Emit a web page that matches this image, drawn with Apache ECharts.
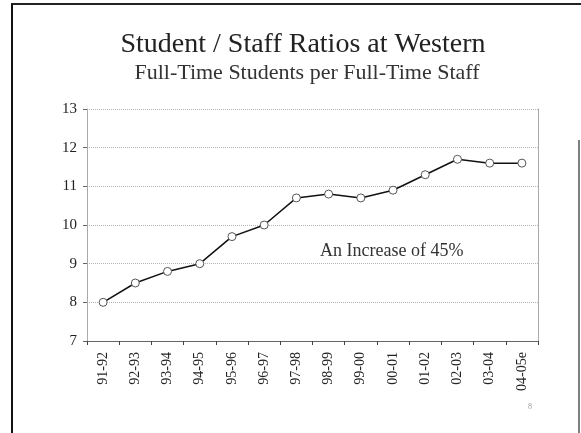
<!DOCTYPE html>
<html>
<head>
<meta charset="utf-8">
<script src="https://cdn.jsdelivr.net/npm/echarts@6/dist/echarts.min.js"></script>
<style>
  html, body { margin: 0; padding: 0; background: #fff; }
  #chart { width: 581px; height: 433px; }
</style>
</head>
<body>
<div id="chart"></div>
<script>
const years = ['91-92', '92-93', '93-94', '94-95', '95-96', '96-97', '97-98',
  '98-99', '99-00', '00-01', '01-02', '02-03', '03-04', '04-05e']
const ratios = [8.0, 8.5, 8.8, 9.0, 9.7, 10.0, 10.7, 10.8, 10.7, 10.9, 11.3, 11.7, 11.6, 11.6]
const yTicks = { min: 7, max: 13, interval: 1 }

const serif = '"Liberation Serif", "DejaVu Serif", serif'

const chart = echarts.init(document.getElementById('chart'))

const option = {
  backgroundColor: '#fff',
  animation: false,
  title: [
    {
      text: 'Student / Staff Ratios at Western',
      left: 298,
      top: 26,
      textAlign: 'center',
      textStyle: { fontFamily: serif, fontSize: 28, fontWeight: 'normal', color: '#222' }
    },
    {
      text: 'Full-Time Students per Full-Time Staff',
      left: 302,
      top: 57,
      textAlign: 'center',
      textStyle: { fontFamily: serif, fontSize: 22, fontWeight: 'normal', color: '#333' }
    }
  ],
  grid: { left: 87, right: 43, top: 109, bottom: 92 },
  xAxis: {
    type: 'category',
    data: years,
    boundaryGap: true,
    axisLine: { lineStyle: { color: '#666', width: 1 } },
    axisTick: { show: true, interval: 0, length: 4, lineStyle: { color: '#444' } },
    axisLabel: {
      rotate: 90,
      interval: 0,
      margin: 11,
      fontFamily: serif,
      fontSize: 14,
      color: '#222'
    }
  },
  yAxis: [
    {
      type: 'value',
      min: yTicks.min,
      max: yTicks.max,
      interval: yTicks.interval,
      axisLine: { show: true, lineStyle: { color: '#aaa' } },
      axisTick: { show: true, length: 4, lineStyle: { color: '#666' } },
      axisLabel: { fontFamily: serif, fontSize: 15, color: '#222', margin: 10 },
      splitLine: { lineStyle: { color: '#b5b5b5', type: 'dotted' } }
    },
    {
      type: 'value',
      position: 'right',
      min: yTicks.min,
      max: yTicks.max,
      interval: yTicks.interval,
      axisLine: { show: true, lineStyle: { color: '#aaa' } },
      axisTick: { show: false },
      axisLabel: { show: false },
      splitLine: { show: false }
    }
  ],
  series: [
    {
      type: 'line',
      data: ratios,
      symbol: 'circle',
      symbolSize: 8,
      lineStyle: { color: '#111', width: 1.5 },
      itemStyle: { color: '#fff', borderColor: '#555', borderWidth: 1 },
      emphasis: { disabled: true }
    }
  ],
  graphic: [
    // slide frame
    { type: 'line', shape: { x1: 11, y1: 4, x2: 581, y2: 4 }, style: { stroke: '#222', lineWidth: 2 } },
    { type: 'line', shape: { x1: 12, y1: 4, x2: 12, y2: 433 }, style: { stroke: '#111', lineWidth: 2 } },
    { type: 'line', shape: { x1: 579, y1: 140, x2: 579, y2: 433 }, style: { stroke: '#555', lineWidth: 1.5 } },
    {
      type: 'text',
      left: 320,
      top: 242,
      style: { text: 'An Increase of 45%', fontFamily: serif, fontSize: 18, fill: '#333' }
    },
    {
      type: 'text',
      left: 528,
      top: 403,
      style: { text: '8', fontFamily: serif, fontSize: 8, fill: '#999' }
    }
  ]
}

chart.setOption(option)
</script>
</body>
</html>
